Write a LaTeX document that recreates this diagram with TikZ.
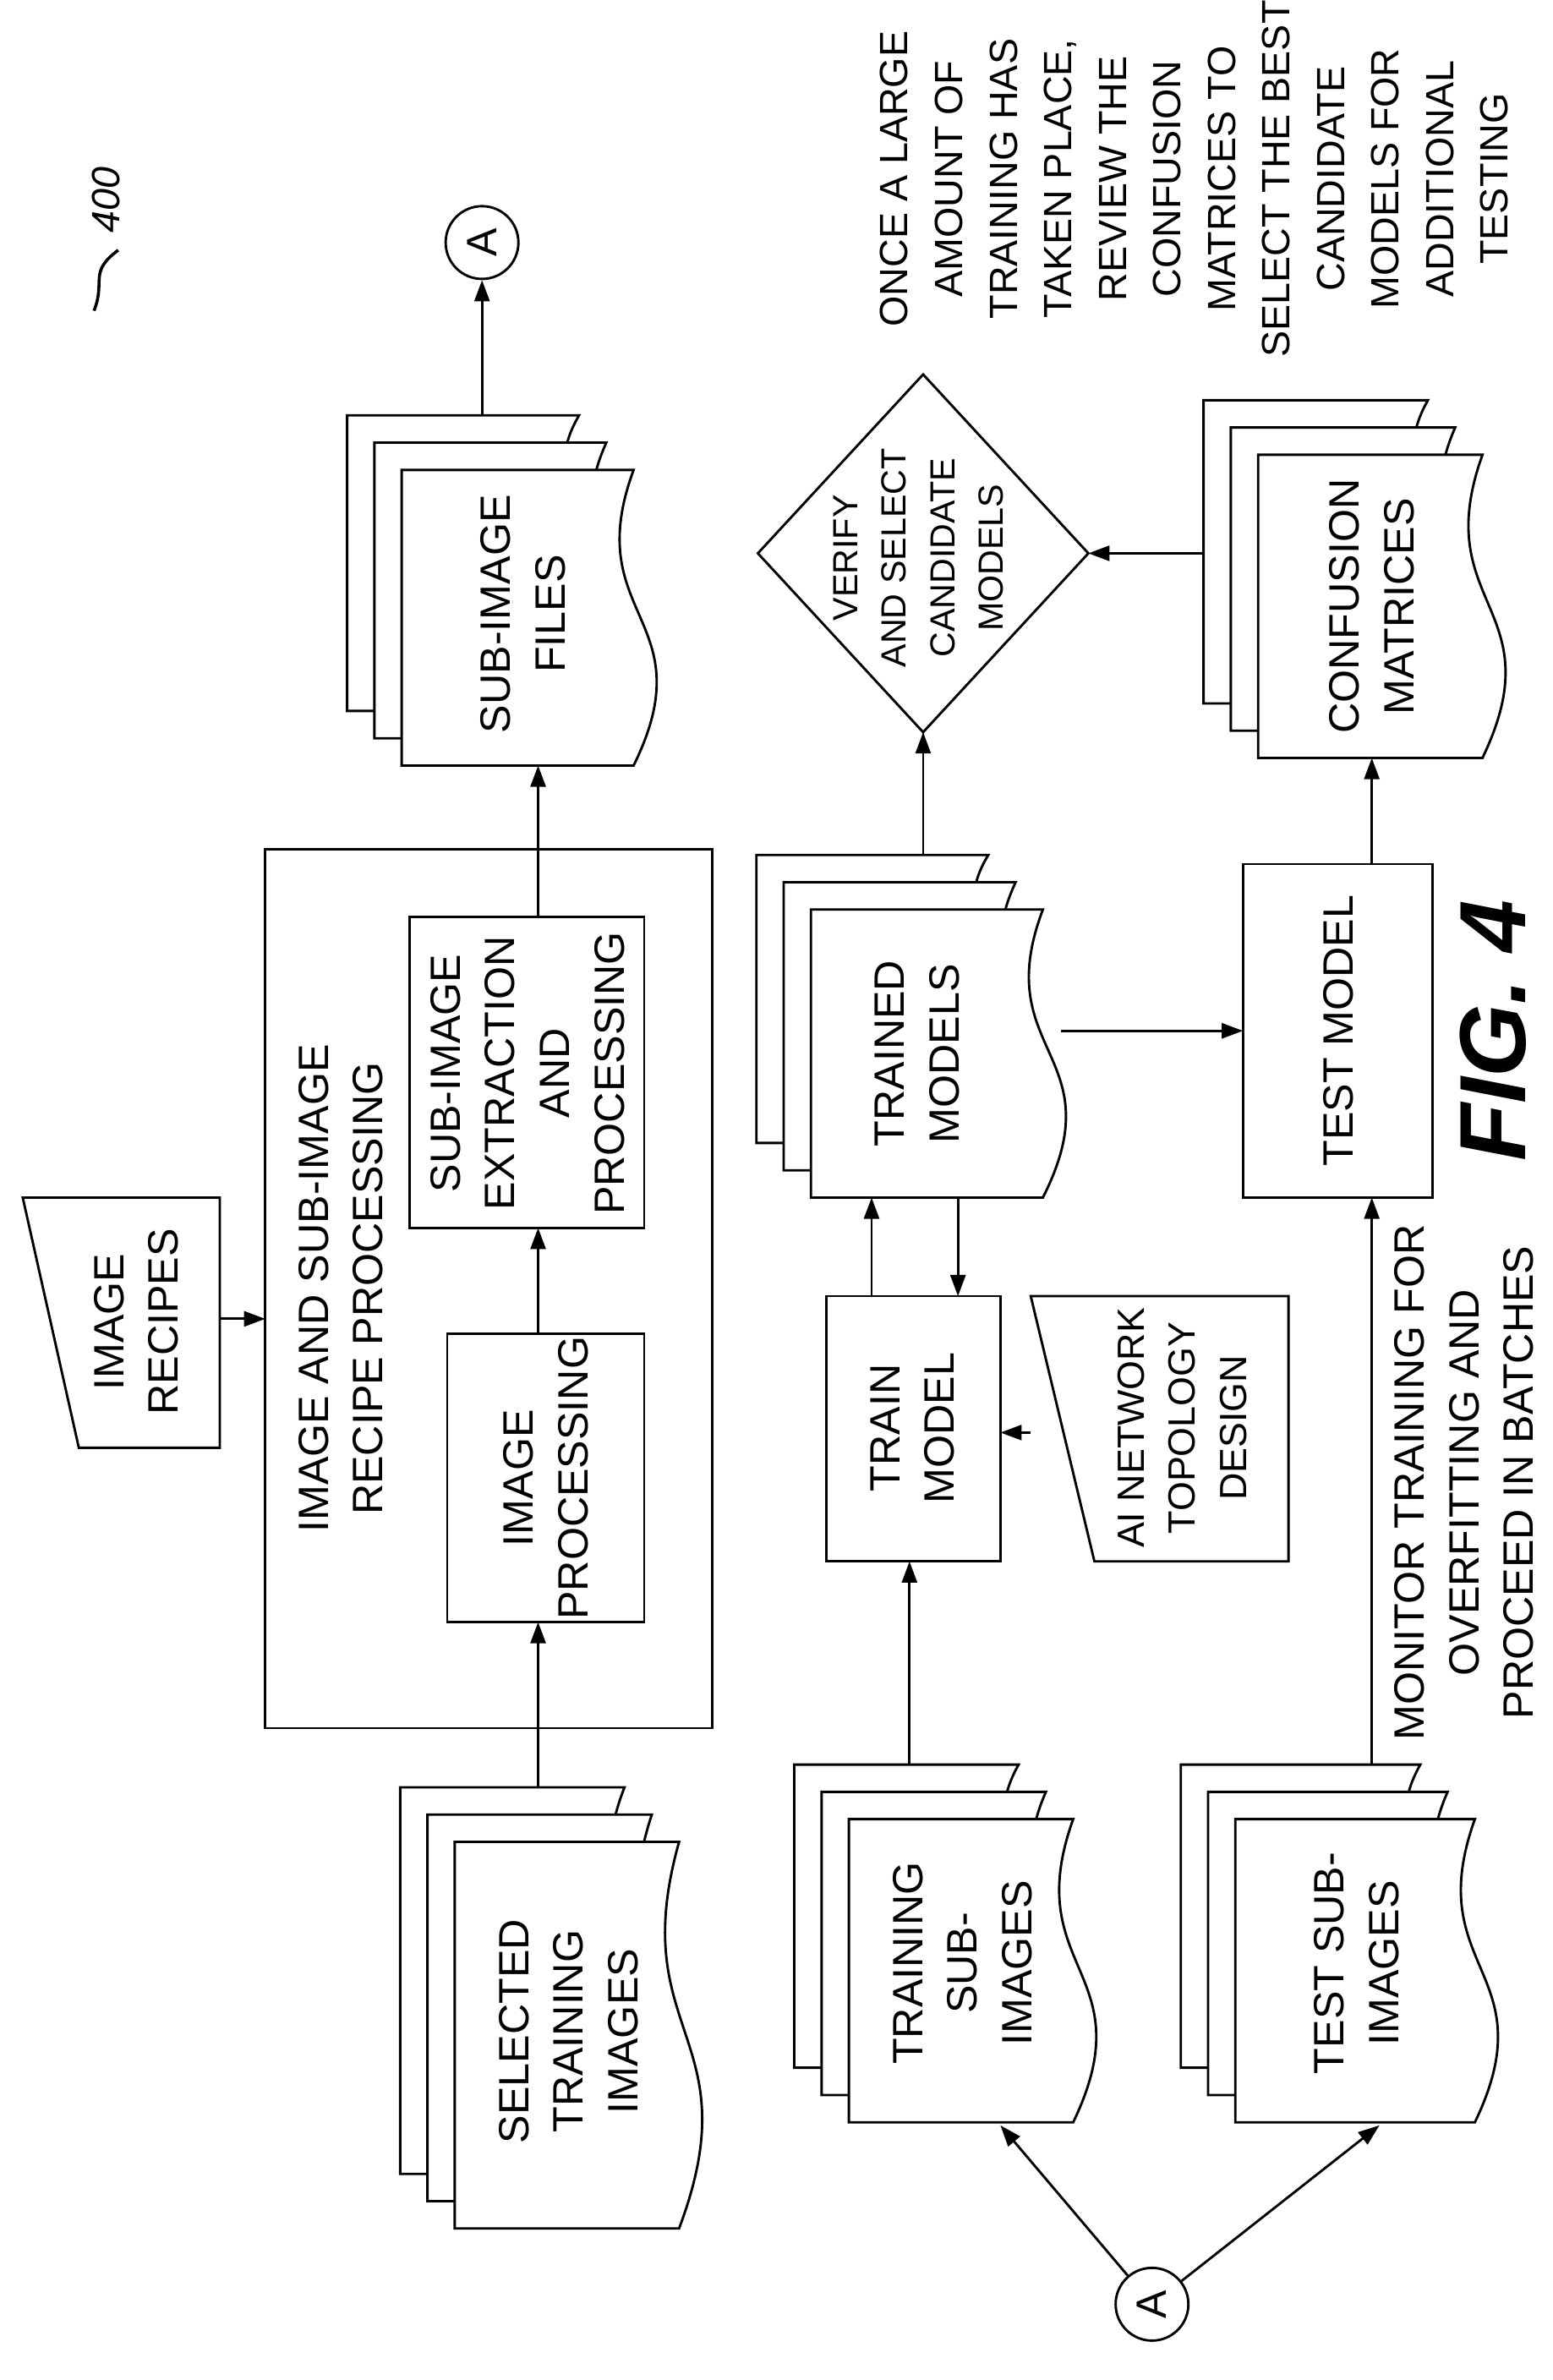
\documentclass[tikz,border=0pt]{standalone}
\usepackage{fontspec}
\setmainfont{Liberation Sans}
\usetikzlibrary{arrows.meta}
\newcommand\docfront[4]{% x0 y0 x1 y1
  \filldraw[fill=white] (#1,#2) -- (#3-12,#2) .. controls (#3-48,{#2+0.5*(#4-#2)}) and (#3+36,{#2+0.5*(#4-#2)}) .. (#3-12,#4) -- (#1,#4) -- cycle;}
\newcommand\docstack[5]{% name x0 y0 x1 y1
  \docfront{#2-36}{#3-36}{#4-36}{#5-36}
  \docfront{#2-18}{#3-18}{#4-18}{#5-18}
  \docfront{#2}{#3}{#4}{#5}
  \coordinate (#1-top) at ({0.5*(#2+#4)-36},#3-36);}
\begin{document}
\begin{tikzpicture}[x=1pt,y=-1pt,line width=1.6pt,
  txt/.style={rotate=90,align=center,font=\fontsize{28}{36}\selectfont},
  stxt/.style={rotate=90,align=center,font=\fontsize{25}{34}\selectfont},
  box/.style={draw,rectangle},
  arr/.style={-{Triangle[length=14pt,width=10pt]}}]
\useasboundingbox (0,0) rectangle (1024,1570);
% top row
\draw[box] (175,560) rectangle (470,1140);
\node[txt] (bigt) at (225,850) {IMAGE AND SUB-IMAGE\\RECIPE PROCESSING};
\draw[box] (295,880) rectangle (425,1070);
\node[txt] (ip) at (360,975) {IMAGE\\PROCESSING};
\draw[box] (270,605) rectangle (425,810);
\node[txt] (se) at (348,708) {SUB-IMAGE\\EXTRACTION\\AND\\PROCESSING};
\draw (15,790) -- (145,790) -- (145,955) -- (52,955) -- cycle;
\node[txt] (ir) at (90,872) {IMAGE\\RECIPES};
\docstack{st}{300}{1215}{460}{1470}
\node[txt] at (375,1340) {SELECTED\\TRAINING\\IMAGES};
\docstack{sf}{265}{310}{430}{505}
\node[txt] at (345,405) {SUB-IMAGE\\FILES};
\node[draw,circle,minimum size=48pt,inner sep=0pt,font=\fontsize{28}{36}\selectfont,rotate=90] (a1) at (318,160) {A};
\coordinate (sftop) at (318,274);
\draw[arr] (sftop) -- (a1);
\draw[arr] (355,1179) -- (355,1070);
\draw[arr] (355,880) -- (355,810);
\draw[arr] (355,605) -- (355,505);
\draw[arr] (145,870) -- (175,870);
% middle row
\docstack{tr}{560}{1200}{720}{1400}
\node[txt] at (635,1295) {TRAINING\\SUB-\\IMAGES};
\docstack{ts}{815}{1200}{985}{1400}
\node[txt] at (895,1295) {TEST SUB-\\IMAGES};
\node[draw,circle,minimum size=48pt,inner sep=0pt,font=\fontsize{28}{36}\selectfont,rotate=90] (a2) at (760,1520) {A};
\draw[arr] (a2) -- (660,1402);
\draw[arr] (a2) -- (910,1402);
\draw[box] (545,855) rectangle (660,1030);
\node[txt] at (602,942) {TRAIN\\MODEL};
\draw[arr] (600,1164) -- (600,1030);
\draw (680,855) -- (850,855) -- (850,1030) -- (722,1030) -- cycle;
\node[stxt] at (780,942) {AI NETWORK\\TOPOLOGY\\DESIGN};
\draw[arr] (680,945) -- (660,945);
\docstack{tm}{535}{600}{700}{790}
\node[txt] at (605,695) {TRAINED\\MODELS};
\draw[arr] (575,855) -- (575,790);
\draw[arr] (632,790) -- (632,855);
\draw[box] (820,570) rectangle (945,790);
\node[txt] at (883,680) {TEST MODEL};
\draw[arr] (700,680) -- (820,680);
\draw[arr] (905,1164) -- (905,790);
\node[txt] at (966,978) {MONITOR TRAINING FOR\\OVERFITTING AND\\PROCEED IN BATCHES};
\docstack{cm}{830}{300}{990}{500}
\node[txt] at (905,400) {CONFUSION\\MATRICES};
\draw[arr] (905,570) -- (905,500);
\draw (609,247) -- (718,365) -- (609,483) -- (500,365) -- cycle;
\node[stxt,font=\fontsize{23}{32}\selectfont] at (606,368) {VERIFY\\AND SELECT\\CANDIDATE\\MODELS};
\draw[arr] (609,564) -- (609,483);
\draw[arr] (795,365) -- (718,365);
\node[stxt,font=\fontsize{26}{36}\selectfont] at (788,118) {ONCE A LARGE\\AMOUNT OF\\TRAINING HAS\\TAKEN PLACE,\\REVIEW THE\\CONFUSION\\MATRICES TO\\SELECT THE BEST\\CANDIDATE\\MODELS FOR\\ADDITIONAL\\TESTING};
\node[rotate=90,font=\fontsize{62}{70}\selectfont\bfseries\itshape] at (985,680) {FIG. 4};
\node[rotate=90,font=\fontsize{26}{30}\selectfont\itshape] at (70,132) {400};
\draw[line width=2pt] (62,205) .. controls (70,185) and (58,180) .. (78,165);
\end{tikzpicture}
\end{document}
